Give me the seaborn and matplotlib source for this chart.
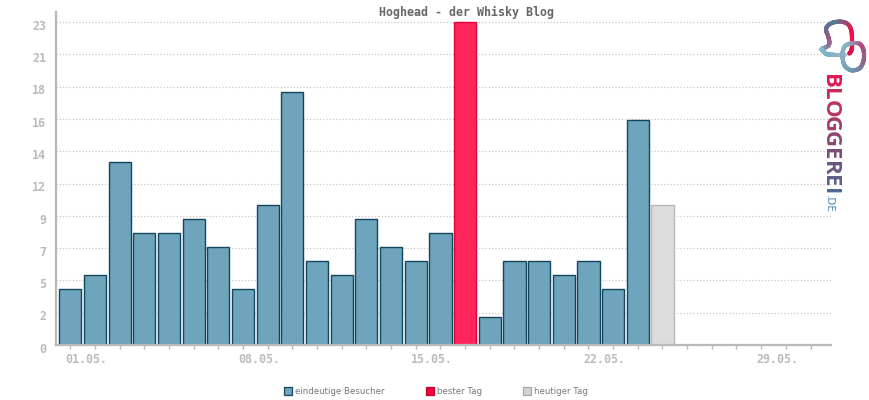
import numpy as np
import pandas as pd
import matplotlib
matplotlib.use('Agg')
import matplotlib.pyplot as plt
import seaborn as sns
from matplotlib.collections import LineCollection
from matplotlib.colors import to_rgb
from matplotlib.lines import Line2D
from matplotlib.transforms import ScaledTranslation

days = [f'{d:02d}.05.' for d in range(1, 32)]
visitors = [4, 5, 13, 8, 8, 9, 7, 4, 10, 18, 6, 5, 9, 7, 6, 8, 23, 2, 6, 6, 5, 6, 4, 16, 10,
            None, None, None, None, None, None]
kinds = ['visitors'] * 16 + ['best'] + ['visitors'] * 7 + ['today'] + ['visitors'] * 6
y_ticks = [0, 2.3, 4.6, 6.9, 9.2, 11.5, 13.8, 16.1, 18.4, 20.7, 23]
y_labels = ['0', '2', '5', '7', '9', '12', '14', '16', '18', '21', '23']
x_labels = {0: '01.05.', 7: '08.05.', 14: '15.05.', 21: '22.05.', 28: '29.05.'}
legend_names = ['eindeutige Besucher', 'bester Tag', 'heutiger Tag']

fills = {'visitors': '#6ea4bc', 'best': '#ff2459', 'today': '#dcdcdc'}
edges = {'visitors': '#12465c', 'best': '#e0003c', 'today': '#b8b8b8'}
legend_fills = ['#6ea4bc', '#f5003d', '#d2d2d2']
legend_edges = ['#12465c', '#c00030', '#a8a8a8']
AXIS = '#b8b8b8'
MONO = 'DejaVu Sans Mono'

sns.set_theme(style='white')
W, H = 870, 400
fig = plt.figure(figsize=(W / 100, H / 100), dpi=100)
ax = fig.add_axes([56 / W, 55 / H, 775 / W, 333 / H])

df = pd.DataFrame({'day': days, 'visitors': visitors, 'kind': kinds})
sns.barplot(data=df, x='day', y='visitors', hue='kind', palette=fills, dodge=False, saturation=1,
            width=0.9, legend=False, order=days, hue_order=list(fills), ax=ax, zorder=2)
for container, kind in zip(ax.containers, fills):
    for bar in container:
        bar.set_edgecolor(edges[kind])
        bar.set_linewidth(1.0)

ax.set_xlim(-0.58, 30.83)
ax.set_ylim(0, 23.72)
ax.set_xlabel('')
ax.set_ylabel('')
ax.set_axisbelow(True)
ax.yaxis.grid(True, color='#c8c8c8', linestyle=(0, (1, 1.6)), linewidth=0.9)
ax.xaxis.grid(False)

ax.set_yticks(y_ticks)
ax.set_yticklabels(y_labels, fontfamily=MONO, fontweight='bold', fontsize=8.4, color='#bbbbbb')
ax.tick_params(axis='y', length=0, pad=7)
offset_y = ScaledTranslation(0, -2 / 72, fig.dpi_scale_trans)
for lab in ax.get_yticklabels():
    lab.set_transform(lab.get_transform() + offset_y)

ax.set_xticks(range(len(days)))
ax.set_xticklabels([x_labels.get(i, '') for i in range(len(days))], fontfamily=MONO,
                   fontweight='bold', fontsize=8.4, color='#bbbbbb', ha='left')
ax.tick_params(axis='x', length=3, width=1.0, color=AXIS, pad=3, bottom=True)
offset_x = ScaledTranslation(-3.5 / 72, 0, fig.dpi_scale_trans)
for lab in ax.get_xticklabels():
    lab.set_transform(lab.get_transform() + offset_x)

sns.despine(ax=ax)
for side in ['left', 'bottom']:
    ax.spines[side].set_color(AXIS)
    ax.spines[side].set_linewidth(1.6)

fig.text(466.5 / W, 1 - 12.5 / H, 'Hoghead - der Whisky Blog', ha='center', va='center',
         fontfamily=MONO, fontweight='bold', fontsize=8.4, color='#666666')

handles = [Line2D([], [], linestyle='none', marker='s', markersize=6.2, markerfacecolor=f,
                  markeredgecolor=e, markeredgewidth=0.9)
           for f, e in zip(legend_fills, legend_edges)]
fig.legend(handles, legend_names, loc='center', bbox_to_anchor=(436 / W, 1 - 392 / H), ncol=3,
           frameon=False, fontsize=6.2, labelcolor='#777777', handlelength=1.0,
           handletextpad=0.35, columnspacing=4.73, borderpad=0)

# logo
def px(x, y):
    return x / W, 1 - y / H

def mix(c1, c2, t):
    a, b = np.array(to_rgb(c1)), np.array(to_rgb(c2))
    return a + (b - a) * t

def stroke(points, stops, lw=3.0):
    pts = np.array(points, dtype=float)
    t = np.linspace(0, len(pts) - 1, 160)
    xs = np.interp(t, range(len(pts)), pts[:, 0])
    ys = np.interp(t, range(len(pts)), pts[:, 1])
    kernel = np.ones(15) / 15
    xs = np.convolve(np.pad(xs, 7, mode='edge'), kernel, mode='valid')
    ys = np.convolve(np.pad(ys, 7, mode='edge'), kernel, mode='valid')
    xy = np.column_stack(px(xs, ys))
    segs = np.stack([xy[:-1], xy[1:]], axis=1)
    u = np.linspace(0, len(stops) - 1, len(segs))
    cols = [mix(stops[int(min(v, len(stops) - 2))], stops[int(min(v, len(stops) - 2)) + 1],
                v - int(min(v, len(stops) - 2))) for v in u]
    fig.add_artist(LineCollection(segs, colors=cols, linewidths=lw, capstyle='round',
                                  transform=fig.transFigure))

stroke([(821, 49), (827, 47), (830, 44), (828, 35), (825, 29), (830, 23), (841, 21), (849, 24),
        (852, 32), (852, 43), (852, 50), (849, 54)],
       ['#7ab0c4', '#9a5a86', '#4f7a9a', '#ff0a45', '#e01048'])
stroke([(821, 49), (826, 54), (834, 55), (845, 55)], ['#8cc0d0', '#7ab0c4', '#a0b8c4'])
stroke([(842, 55), (844, 46), (851, 43), (860, 43), (864, 50), (864, 61), (860, 69), (851, 71),
        (844, 66), (842, 55)],
       ['#88b0c4', '#88b0c4', '#b04a78', '#8a6a90', '#6a9ab4', '#88b0c4'])

letters = ['B', 'L', 'O', 'G', 'G', 'E', 'R', 'E', 'I']
letter_tops = [74, 88, 100, 116, 131, 148, 161, 175, 188]
letter_cols = ['#dc1a50', '#c92a58', '#b83560', '#a03e68', '#8a4670', '#784e78', '#6a5680', '#5c5f88',
               '#4f6890']
for ch, top, col in zip(letters, letter_tops, letter_cols):
    fig.text(*px(830, top), ch, rotation=-90, ha='center', va='top', fontfamily='Open Sans',
             fontweight='bold', fontsize=16, color=col)
fig.text(*px(829, 195), '.DE', rotation=-90, ha='center', va='top', fontfamily='DejaVu Sans',
         fontsize=7.5, color='#4f85a8')

fig.savefig('out.png', dpi=100)
